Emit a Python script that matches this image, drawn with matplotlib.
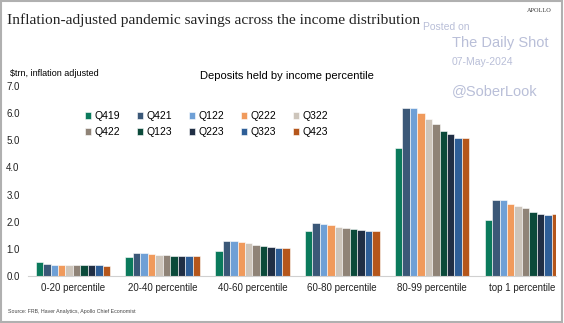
import matplotlib.pyplot as plt
from matplotlib.patches import Rectangle
import numpy as np

groups = ['0-20 percentile', '20-40 percentile', '40-60 percentile',
          '60-80 percentile', '80-99 percentile', 'top 1 percentile']
quarters = ['Q419', 'Q421', 'Q122', 'Q222', 'Q322',
            'Q422', 'Q123', 'Q223', 'Q323', 'Q423']

# deposits, $trn inflation adjusted, one list per quarter (values by group)
q419 = [0.50, 0.69, 0.93, 1.65, 4.70, 2.08]
q421 = [0.43, 0.84, 1.28, 1.94, 6.20, 2.79]
q122 = [0.42, 0.84, 1.28, 1.92, 6.18, 2.79]
q222 = [0.41, 0.82, 1.25, 1.87, 6.00, 2.67]
q322 = [0.40, 0.79, 1.21, 1.81, 5.77, 2.57]
q422 = [0.39, 0.76, 1.16, 1.77, 5.60, 2.49]
q123 = [0.39, 0.75, 1.11, 1.72, 5.35, 2.36]
q223 = [0.39, 0.72, 1.08, 1.68, 5.22, 2.30]
q323 = [0.39, 0.72, 1.04, 1.65, 5.08, 2.23]
q423 = [0.38, 0.72, 1.05, 1.65, 5.08, 2.27]
series = [q419, q421, q122, q222, q322, q422, q123, q223, q323, q423]

colors = ['#0b7a5c', '#3b5878', '#6fa0d6', '#f09a5c', '#cdc5bb',
          '#8f8377', '#0b4a3a', '#202e44', '#2e5e97', '#b5561b']

plt.rcParams['font.family'] = ['Liberation Sans', 'DejaVu Sans']

W, H = 564, 323
fig = plt.figure(figsize=(W / 100, H / 100), dpi=100)

# axes in pixel terms
left, right, top, bottom = 28, 556, 86, 276
ax = fig.add_axes([left / W, 1 - bottom / H, (right - left) / W, (bottom - top) / H])

x = np.arange(len(groups))
bw = 0.083
for i, (vals, q, c) in enumerate(zip(series, quarters, colors)):
    ax.bar(x + (i - 4.5) * bw, vals, bw, color=c, label=q,
           edgecolor='white', linewidth=0.4)

ax.set_xlim(-0.5, 5.38)
ax.set_ylim(0, 7)
ax.set_yticks(np.arange(0, 7.5, 1.0))
ax.set_yticklabels([f'{v:.1f}' for v in np.arange(0, 7.5, 1.0)])
ax.set_xticks(x)
ax.set_xticklabels(groups)
ax.tick_params(axis='both', length=0, labelsize=7, colors='#222222')
ax.tick_params(axis='x', pad=5)
ax.tick_params(axis='y', pad=6)
for s in ['top', 'right', 'left']:
    ax.spines[s].set_visible(False)
ax.spines['bottom'].set_color('#d0d0d0')
ax.spines['bottom'].set_linewidth(0.8)

# legend filled row by row (matplotlib fills columns first)
handles, labels = ax.get_legend_handles_labels()
order = [0, 5, 1, 6, 2, 7, 3, 8, 4, 9]
leg = ax.legend([handles[k] for k in order], [labels[k] for k in order],
                ncol=5, loc='upper left', bbox_to_anchor=(85 / W, 1 - 111 / H),
                bbox_transform=fig.transFigure, frameon=False, fontsize=7.5,
                handlelength=0.6, handleheight=0.6, handletextpad=0.3,
                columnspacing=1.62, labelspacing=0.6, borderpad=0, borderaxespad=0)
for h in leg.legend_handles:
    h.set_edgecolor('white')

fig.text(7 / W, 1 - 20 / H, 'Inflation-adjusted pandemic savings across the income distribution',
         family='Liberation Serif', fontsize=11.1, va='center', ha='left', color='#222222')
fig.text(552 / W, 1 - 11 / H, 'APOLLO', family='Liberation Serif', fontsize=4.5,
         ha='right', va='center', color='#333333')
fig.text(10 / W, 1 - 74 / H, '$trn, inflation adjusted', fontsize=6.5, va='center')
fig.text(287 / W, 1 - 76 / H, 'Deposits held by income percentile', fontsize=8,
         va='center', ha='center')
fig.text(8 / W, 1 - 311 / H, 'Source: FRB, Haver Analytics, Apollo Chief Economist',
         fontsize=3.8, va='center', color='#444444')

wm = '#b9bfd8'
fig.text(423 / W, 1 - 27 / H, 'Posted on', fontsize=7.5, color=wm, va='center')
fig.text(452 / W, 1 - 43 / H, 'The Daily Shot', fontsize=10.5, color=wm, va='center')
fig.text(452 / W, 1 - 62 / H, '07-May-2024', fontsize=7.5, color=wm, va='center')
fig.text(452 / W, 1 - 91 / H, '@SoberLook', fontsize=10.5, color=wm, va='center')

fig.patches.append(Rectangle((0.002, 0.004), 0.994, 0.992, transform=fig.transFigure,
                             fill=False, edgecolor='#b0b0b0', linewidth=1.5))

fig.savefig('out.png', dpi=100)
